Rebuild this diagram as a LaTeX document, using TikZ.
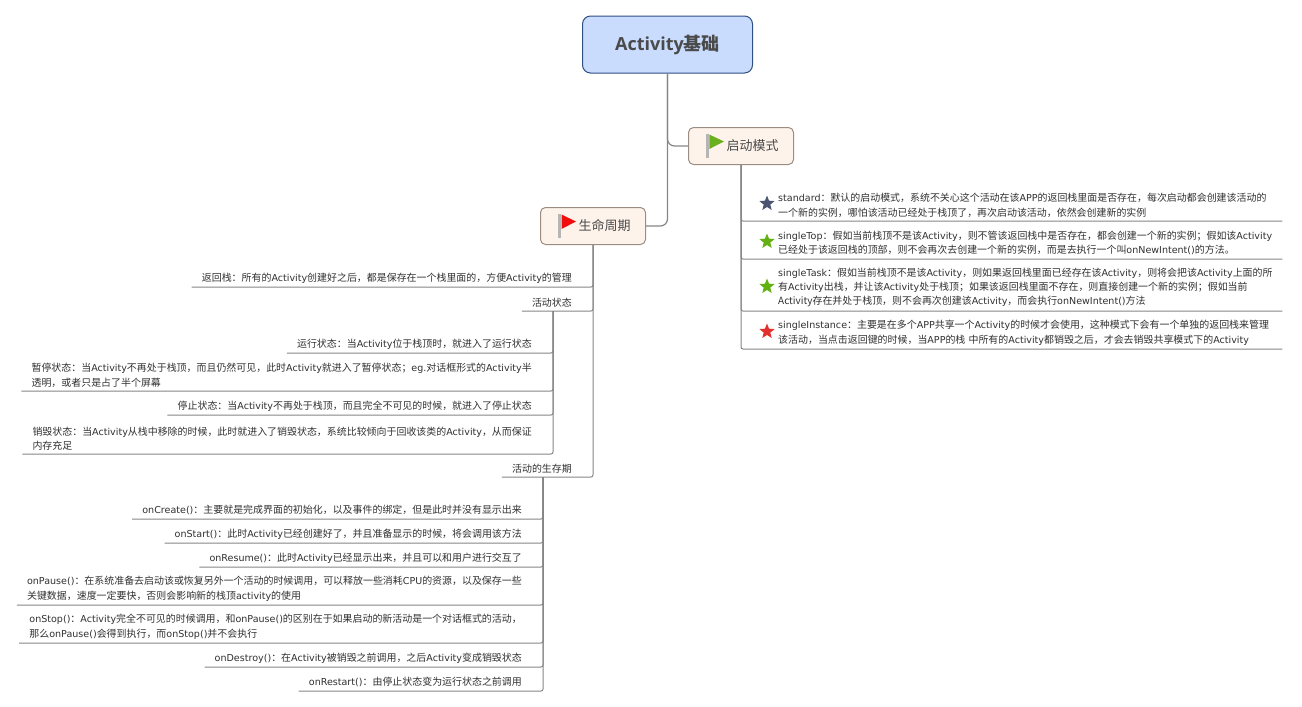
\documentclass[tikz,border=0pt]{standalone}
\usepackage{fontspec}
\usetikzlibrary{shapes.geometric}
\setmainfont[Scale=0.96]{DejaVu Sans}
\newfontfamily\cjk{Noto Sans CJK SC}
\newfontfamily\titlelatin{Open Sans}
% Chinese runs switch font by themselves
\newXeTeXintercharclass\cjkclass
\count255="3000
\loop\ifnum\count255<"A000 \XeTeXcharclass\count255=\cjkclass \advance\count255 by 1 \repeat
\count255="FF00
\loop\ifnum\count255<"FFF0 \XeTeXcharclass\count255=\cjkclass \advance\count255 by 1 \repeat
\XeTeXinterchartoks 0 \cjkclass={\cjk}
\XeTeXinterchartoks 4095 \cjkclass={\cjk}
\XeTeXinterchartoks \cjkclass 0={\rmfamily}
\XeTeXinterchartokenstate=1
\definecolor{rootfill}{HTML}{C9DCFE}
\definecolor{rootline}{HTML}{2F4F85}
\definecolor{topicfill}{HTML}{FDF3EB}
\definecolor{topicline}{HTML}{9C8D82}
\definecolor{linkgray}{HTML}{858585}
\definecolor{textgray}{HTML}{4A4A4A}
\definecolor{leafgray}{HTML}{303030}
\definecolor{flaggreen}{HTML}{6AAF1E}
\definecolor{flagred}{HTML}{F20D0D}
\definecolor{polegray}{HTML}{B5B5B5}
\definecolor{stardark}{HTML}{4A5470}
\definecolor{stargreen}{HTML}{62B012}
\definecolor{starred}{HTML}{E2302C}
\begin{document}
\begin{tikzpicture}[x=1pt, y=-1pt,
	root/.style={draw=rootline, fill=rootfill, rounded corners=8pt, line width=1pt, minimum width=170pt, minimum height=57pt, text=textgray, font=\fontsize{18}{20}\selectfont\bfseries},
	topic/.style={draw=topicline, fill=topicfill, rounded corners=5pt, line width=1pt, minimum width=105pt, minimum height=37pt, text=textgray, font=\fontsize{13}{15}\selectfont},
	leaf/.style={inner xsep=0pt, inner ysep=3.7pt, align=left, text=leafgray, font=\fontsize{9.95}{14.2}\selectfont},
	modeleaf/.style={leaf, anchor=south west, text width=494pt},
	stateleaf/.style={leaf, anchor=south east},
	link/.style={draw=linkgray, line width=1.2pt, rounded corners=7pt},
	branch/.style={draw=linkgray, line width=1pt, rounded corners=2pt},
	staricon/.style={star, star points=5, star point ratio=2.3, minimum size=16pt, inner sep=0pt}]
	\useasboundingbox (0,0) rectangle (1302,707);
	\node[root] (Root) at (667.5,44.5) {\raisebox{-1.5pt}{\titlelatin Activity基础}};
	\node[topic] (Launch) at (741,146) {\hspace*{23pt}\raisebox{-1.5pt}{启动模式}};
	\node[topic] (Life) at (593,226) {\hspace*{23pt}\raisebox{-1.5pt}{生命周期}};
	% Flags
	\fill[polegray] (706,134) rectangle (708.7,158);
	\fill[flaggreen] (709.3,134.5) -- (724,141.5) -- (709.3,149) -- cycle;
	\fill[polegray] (558.3,214) rectangle (561,238);
	\fill[flagred] (561.5,214.5) -- (576,221.5) -- (561.5,229) -- cycle;
	% Launch modes
	\node[modeleaf] (Standard) at (778,221) {standard：默认的启动模式，系统不关心这个活动在该APP的返回栈里面是否存在，每次启动都会创建该活动的\\一个新的实例，哪怕该活动已经处于栈顶了，再次启动该活动，依然会创建新的实例};
	\node[modeleaf] (SingleTop) at (778,259) {singleTop：假如当前栈顶不是该Activity，则不管该返回栈中是否存在，都会创建一个新的实例；假如该Activity\\已经处于该返回栈的顶部，则不会再次去创建一个新的实例，而是去执行一个叫onNewIntent()的方法。};
	\node[modeleaf] (SingleTask) at (778,311) {singleTask：假如当前栈顶不是该Activity，则如果返回栈里面已经存在该Activity，则将会把该Activity上面的所\\有Activity出栈，并让该Activity处于栈顶；如果该返回栈里面不存在，则直接创建一个新的实例；假如当前\\Activity存在并处于栈顶，则不会再次创建该Activity，而会执行onNewIntent()方法};
	\node[modeleaf] (SingleInstance) at (778,349) {singleInstance：主要是在多个APP共享一个Activity的时候才会使用，这种模式下会有一个单独的返回栈来管理\\该活动，当点击返回键的时候，当APP的栈 中所有的Activity都销毁之后，才会去销毁共享模式下的Activity};
	\node[staricon, fill=stardark] (StarStandard) at (767,203.5) {};
	\node[staricon, fill=stargreen] (StarTop) at (767,241.5) {};
	\node[staricon, fill=stargreen] (StarTask) at (767,286.5) {};
	\node[staricon, fill=starred] (StarInstance) at (767,331.5) {};
	% Life cycle
	\node[stateleaf] (BackStack) at (572,287) {返回栈：所有的Activity创建好之后，都是保存在一个栈里面的，方便Activity的管理};
	\node[stateleaf] (ActiveState) at (572,311) {活动状态};
	\node[stateleaf] (Running) at (532,353) {运行状态：当Activity位于栈顶时，就进入了运行状态};
	\node[stateleaf] (Paused) at (532,391) {暂停状态：当Activity不再处于栈顶，而且仍然可见，此时Activity就进入了暂停状态；eg.对话框形式的Activity半\\透明，或者只是占了半个屏幕};
	\node[stateleaf] (Stopped) at (532,415) {停止状态：当Activity不再处于栈顶，而且完全不可见的时候，就进入了停止状态};
	\node[stateleaf] (Destroyed) at (532,454) {销毁状态：当Activity从栈中移除的时候，此时就进入了销毁状态，系统比较倾向于回收该类的Activity，从而保证\\内存充足};
	\node[stateleaf] (Lifetime) at (572,477) {活动的生存期};
	\node[stateleaf] (OnCreate) at (522,519) {onCreate()：主要就是完成界面的初始化，以及事件的绑定，但是此时并没有显示出来};
	\node[stateleaf] (OnStart) at (522,543) {onStart()：此时Activity已经创建好了，并且准备显示的时候，将会调用该方法};
	\node[stateleaf] (OnResume) at (522,567) {onResume()：此时Activity已经显示出来，并且可以和用户进行交互了};
	\node[stateleaf] (OnPause) at (522,605) {onPause()：在系统准备去启动该或恢复另外一个活动的时候调用，可以释放一些消耗CPU的资源，以及保存一些\\关键数据，速度一定要快，否则会影响新的栈顶activity的使用};
	\node[stateleaf] (OnStop) at (522,643) {onStop()：Activity完全不可见的时候调用，和onPause()的区别在于如果启动的新活动是一个对话框式的活动，\\那么onPause()会得到执行，而onStop()并不会执行};
	\node[stateleaf] (OnDestroy) at (522,667) {onDestroy()：在Activity被销毁之前调用，之后Activity变成销毁状态};
	\node[stateleaf] (OnRestart) at (522,691) {onRestart()：由停止状态变为运行状态之前调用};
	\coordinate (StateTrunk) at (553,311);
	\coordinate (LifetimeTrunk) at (543,477);
	% Arrows
	\draw[link] (Root.south) |- (Launch.west);
	\draw[link] (Root.south) |- (Life.east);
	\draw[branch] (Launch.south) |- ([xshift=10pt]Standard.south east);
	\draw[branch] (Launch.south) |- ([xshift=10pt]SingleTop.south east);
	\draw[branch] (Launch.south) |- ([xshift=10pt]SingleTask.south east);
	\draw[branch] (Launch.south) |- ([xshift=10pt]SingleInstance.south east);
	\draw[branch] (Life.south) |- ([xshift=-10pt]BackStack.south west);
	\draw[branch] (Life.south) |- ([xshift=-10pt]ActiveState.south west);
	\draw[branch] (Life.south) |- ([xshift=-10pt]Lifetime.south west);
	\draw[branch] (StateTrunk) |- ([xshift=-10pt]Running.south west);
	\draw[branch] (StateTrunk) |- ([xshift=-10pt]Paused.south west);
	\draw[branch] (StateTrunk) |- ([xshift=-10pt]Stopped.south west);
	\draw[branch] (StateTrunk) |- ([xshift=-10pt]Destroyed.south west);
	\draw[branch] (LifetimeTrunk) |- ([xshift=-10pt]OnCreate.south west);
	\draw[branch] (LifetimeTrunk) |- ([xshift=-10pt]OnStart.south west);
	\draw[branch] (LifetimeTrunk) |- ([xshift=-10pt]OnResume.south west);
	\draw[branch] (LifetimeTrunk) |- ([xshift=-10pt]OnPause.south west);
	\draw[branch] (LifetimeTrunk) |- ([xshift=-10pt]OnStop.south west);
	\draw[branch] (LifetimeTrunk) |- ([xshift=-10pt]OnDestroy.south west);
	\draw[branch] (LifetimeTrunk) |- ([xshift=-10pt]OnRestart.south west);
\end{tikzpicture}
\end{document}
